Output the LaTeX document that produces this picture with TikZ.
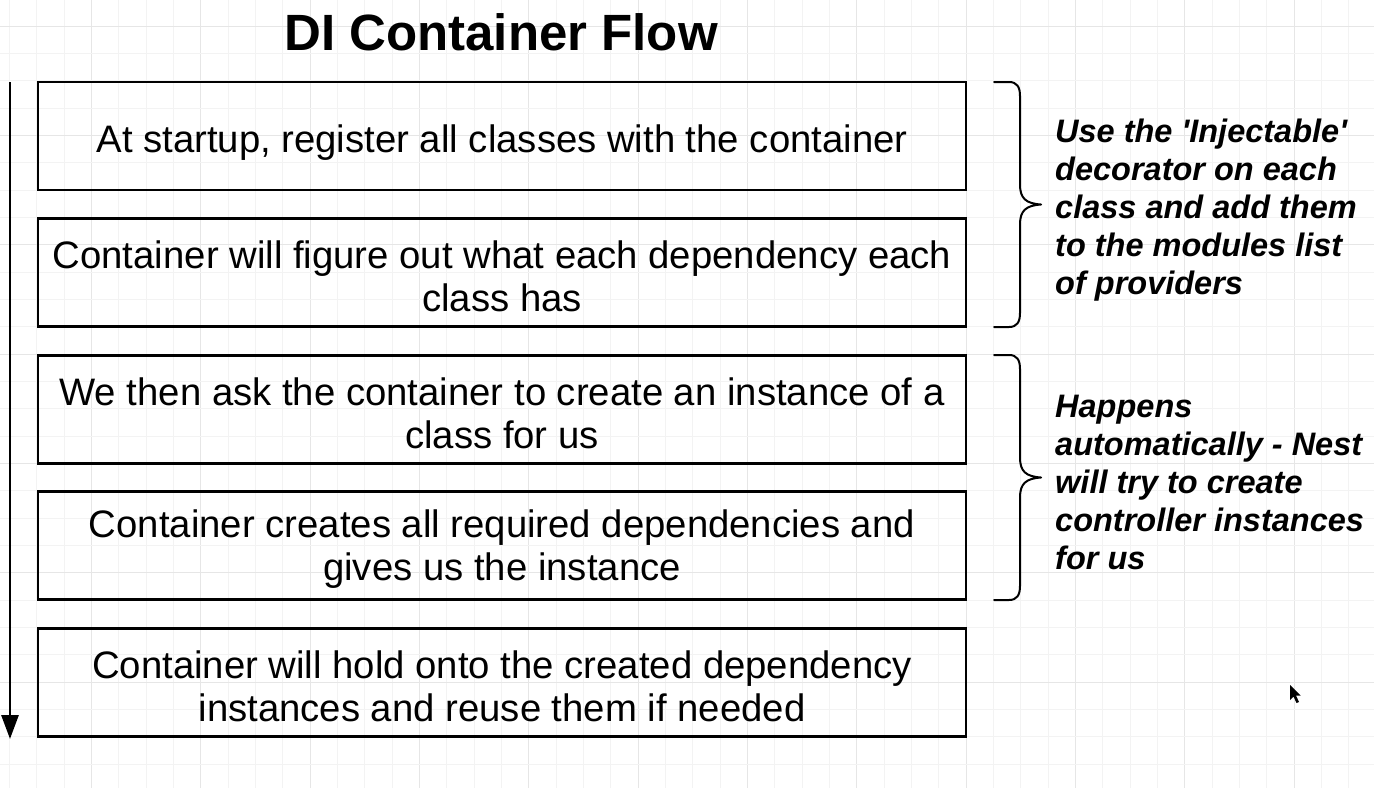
\documentclass[tikz,border=0pt]{standalone}
\usepackage{fontspec}
\setmainfont{Liberation Sans}
\usetikzlibrary{arrows.meta}
\definecolor{gridminor}{HTML}{F3F3F3}
\definecolor{gridmajor}{HTML}{E6E6E6}
\tikzset{
  stepbox/.style={draw=black, line width=2.6pt, minimum width=928pt, minimum height=108pt, inner sep=0pt},
  boxtext/.style={align=center, inner sep=0pt, yshift=-4pt, font=\fontsize{38.3}{43}\selectfont},
  note/.style={align=left, anchor=west, inner sep=0pt, font=\fontsize{32.5}{38}\selectfont\bfseries\itshape},
  bracestyle/.style={line width=2pt, line cap=round, line join=round},
  flowarrow/.style={line width=2.8pt, -{Triangle[length=24pt,width=17pt]}},
}
\begin{document}
\begin{tikzpicture}[x=1pt,y=-1pt]
\useasboundingbox (0,0) rectangle (1374,788);
\fill[white] (0,0) rectangle (1374,788);
% grid
\foreach \i in {0,...,50}{
  \pgfmathsetmacro{\gx}{9.33+27.333*\i}
  \pgfmathtruncatemacro{\m}{mod(\i,4)}
  \ifnum\m=3 \draw[gridmajor, line width=0.9pt] (\gx,0) -- (\gx,788);
  \else \draw[gridminor, line width=0.9pt] (\gx,0) -- (\gx,788); \fi
}
\foreach \j in {-1,...,28}{
  \pgfmathsetmacro{\gy}{26+27.333*\j}
  \pgfmathtruncatemacro{\m}{mod(\j+4,4)}
  \ifnum\m=0 \draw[gridmajor, line width=0.9pt] (0,\gy) -- (1374,\gy);
  \else \draw[gridminor, line width=0.9pt] (0,\gy) -- (1374,\gy); \fi
}
% title
\node[font=\fontsize{51}{56}\selectfont\bfseries] (title) at (501,32) {DI Container Flow};
% boxes
\node[stepbox, label={[boxtext, yshift=-3pt]center:{At startup, register all classes with the container}}] (b1) at (502,136) {};
\node[stepbox, label={[boxtext]center:{Container will figure out what each dependency each\\class has}}] (b2) at (502,272.5) {};
\node[stepbox, label={[boxtext]center:{We then ask the container to create an instance of a\\class for us}}] (b3) at (502,409.5) {};
\node[stepbox, label={[boxtext]center:{Container creates all required dependencies and\\gives us the instance}}] (b4) at (502,545.5) {};
\node[stepbox, label={[boxtext]center:{Container will hold onto the created dependency\\instances and reuse them if needed}}] (b5) at (502,682.5) {};
% flow arrow
\coordinate (as) at (10,82);
\coordinate (ae) at (10,739);
\draw[flowarrow] (as) -- (ae);
% braces
\foreach \t/\b in {82/327, 355/600}{
  \pgfmathsetmacro{\mid}{(\t+\b)/2}
  \draw[bracestyle] (994,\t) -- (1009,\t)
     .. controls (1017,\t) and (1020,\t+5) .. (1020,\t+14)
     -- (1020,\mid-20)
     .. controls (1020,\mid-6) and (1026,\mid-1) .. (1041,\mid)
     .. controls (1026,\mid+1) and (1020,\mid+6) .. (1020,\mid+20)
     -- (1020,\b-14)
     .. controls (1020,\b-5) and (1017,\b) .. (1009,\b)
     -- (994,\b);
}
% notes
\node[note] (n1) at (1055,210) {Use the \textquotesingle Injectable\textquotesingle\\decorator on each\\class and add them\\to the modules list\\of providers};
\node[note] (n2) at (1055,482) {Happens\\automatically - Nest\\will try to create\\controller instances\\for us};
% cursor
\fill[black] (1290,685) -- (1290,700) -- (1293.5,696.5) -- (1296.5,703) -- (1299,702) -- (1296,695.5) -- (1300.5,695.5) -- cycle;
\end{tikzpicture}
\end{document}
